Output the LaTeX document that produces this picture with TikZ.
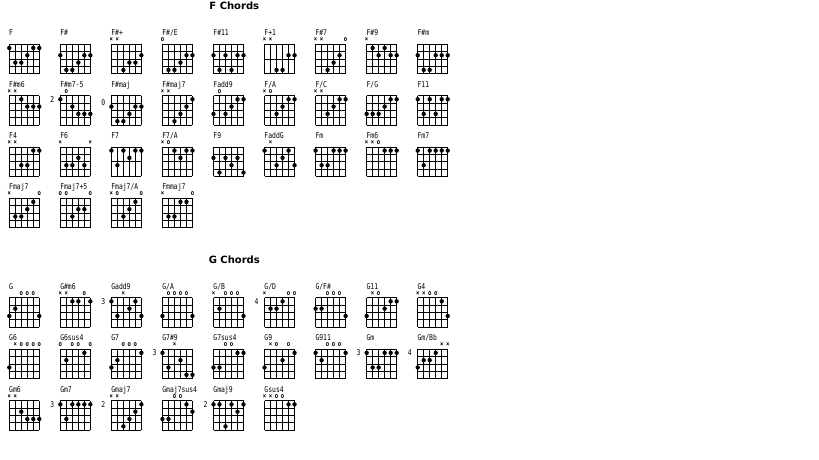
\documentclass[tikz,border=0pt]{standalone}
\usepackage{fontspec}
\setmainfont{DejaVu Sans}
\newfontfamily\labfont[FakeStretch=0.8]{DejaVu Sans Mono}

\tikzset{
  chlabel/.style={font=\labfont\fontsize{8}{8}\selectfont, inner sep=0pt, anchor=base west},
  chmark/.style={font=\labfont\fontsize{7}{7}\selectfont\bfseries, inner sep=0pt},
  fretlab/.style={font=\labfont\fontsize{8}{8}\selectfont, inner sep=0pt},
  gridline/.style={line width=0.7pt, black},
  chdot/.style={fill=black},
  sectitle/.style={font=\bfseries\fontsize{10}{10}\selectfont, inner sep=0pt},
}
\def\mx{×}
\def\mo{o}

% #1 x, #2 y, #3 node name, #4 label, #5 dots s/r, #6 markers s/sym, #7 fret y/text, #8 grid f|h
\newcommand{\chordbox}[8]{%
\begin{scope}[shift={(#1,#2)}]
  \node[chlabel] (#3) at (-0.3,-8.5) {#4};
  \foreach \s in {0,...,5} \draw[gridline] (\s*6,0) -- (\s*6,29.3);
  \if#8h
    \foreach \f in {0,2,4} \draw[gridline] (0,\f*7.325) -- (30,\f*7.325);
  \else
    \foreach \f in {0,...,4} \draw[gridline] (0,\f*7.325) -- (30,\f*7.325);
  \fi
  \foreach \s/\r in {#5} \fill[chdot] (\s*6-6,\r*7.325-3.66) circle (2.2pt);
  \def\tmpm{#6}\ifx\tmpm\empty\else
    \foreach \s/\m in {#6} \node[chmark] (#3-m\s) at (\s*6-6,-4.3) {\m};
  \fi
  \def\tmpf{#7}\ifx\tmpf\empty\else
    \foreach \fy/\ft in {#7} \node[fretlab] (#3-fret) at (-8,\fy) {\ft};
  \fi
\end{scope}}

\begin{document}
\begin{tikzpicture}[x=1pt,y=-1pt]
\fill[white] (0,0) rectangle (819,460);
\useasboundingbox (0,0) rectangle (819,460);

\node[sectitle] (ftitle) at (234.3,6) {F Chords};
\node[sectitle] (gtitle) at (234.3,260) {G Chords};

% ---- F row 1
\chordbox{9.3}{44.3}{fa0}{F}{1/1,2/3,3/3,4/2,5/1,6/1}{}{}{f}
\chordbox{60.35}{44.3}{fa1}{F\#}{1/2,2/4,3/4,4/3,5/2,6/2}{}{}{f}
\chordbox{111.4}{44.3}{fa2}{F\#+}{3/4,4/3,5/3,6/2}{1/\mx,2/\mx}{}{f}
\chordbox{162.45}{44.3}{fa3}{F\#/E}{2/4,3/4,4/3,5/2,6/2}{1/\mo}{}{f}
\chordbox{213.5}{44.3}{fa4}{F\#11}{1/2,2/4,3/2,4/4,5/2,6/2}{}{}{f}
\chordbox{264.55}{44.3}{fa5}{F+1}{3/4,4/4,5/2,6/2}{1/\mx,2/\mx}{}{h}
\chordbox{315.6}{44.3}{fa6}{F\#7}{3/4,4/3,5/2}{1/\mx,2/\mx,6/\mo}{}{f}
\chordbox{366.65}{44.3}{fa7}{F\#9}{2/1,3/2,4/1,5/2,6/2}{1/\mx}{}{f}
\chordbox{417.7}{44.3}{fa8}{F\#m}{1/2,2/4,3/4,4/2,5/2,6/2}{}{}{f}

% ---- F row 2
\chordbox{9.3}{95.6}{fb0}{F\#m6}{3/1,4/2,5/2,6/2}{1/\mx,2/\mx}{}{f}
\chordbox{60.35}{95.6}{fb1}{F\#m7-5}{1/1,3/2,4/3,5/3,6/3}{2/\mo}{3.66/2}{f}
\chordbox{111.4}{95.6}{fb2}{F\#maj}{1/2,2/4,3/4,4/3,5/2,6/2}{}{6.7/0}{f}
\chordbox{162.45}{95.6}{fb3}{F\#maj7}{3/4,4/3,5/2,6/1}{1/\mx,2/\mx}{}{f}
\chordbox{213.5}{95.6}{fb4}{Fadd9}{1/3,3/3,4/2,5/1,6/1}{2/\mo}{}{f}
\chordbox{264.55}{95.6}{fb5}{F/A}{3/3,4/2,5/1,6/1}{1/\mx,2/\mo}{}{f}
\chordbox{315.6}{95.6}{fb6}{F/C}{3/3,4/2,5/1,6/1}{1/\mx,2/\mx}{}{f}
\chordbox{366.65}{95.6}{fb7}{F/G}{1/3,2/3,3/3,4/2,5/1,6/1}{}{}{f}
\chordbox{417.7}{95.6}{fb8}{F11}{1/1,2/3,3/1,4/3,5/1,6/1}{}{}{f}

% ---- F row 3
\chordbox{9.3}{146.9}{fc0}{F4}{3/3,4/3,5/1,6/1}{1/\mx,2/\mx}{}{f}
\chordbox{60.35}{146.9}{fc1}{F6}{2/3,3/3,4/2,5/3}{1/\mx,6/\mx}{}{f}
\chordbox{111.4}{146.9}{fc2}{F7}{1/1,2/3,3/1,4/2,5/1,6/1}{}{}{h}
\chordbox{162.45}{146.9}{fc3}{F7/A}{3/1,4/2,5/1,6/1}{1/\mx,2/\mo}{}{f}
\chordbox{213.5}{146.9}{fc4}{F9}{1/2,2/4,3/2,4/3,5/2,6/4}{}{}{f}
\chordbox{264.55}{146.9}{fc5}{FaddG}{1/1,3/3,4/2,5/1,6/3}{2/\mx}{}{f}
\chordbox{315.6}{146.9}{fc6}{Fm}{1/1,2/3,3/3,4/1,5/1,6/1}{}{}{f}
\chordbox{366.65}{146.9}{fc7}{Fm6}{4/1,5/1,6/1}{1/\mx,2/\mx,3/\mo}{}{f}
\chordbox{417.7}{146.9}{fc8}{Fm7}{1/1,2/3,3/1,4/1,5/1,6/1}{}{}{f}

% ---- F row 4
\chordbox{9.3}{198.2}{fd0}{Fmaj7}{2/3,3/3,4/2,5/1}{1/\mx,6/\mo}{}{f}
\chordbox{60.35}{198.2}{fd1}{Fmaj7+5}{3/3,4/2,5/2}{1/\mo,2/\mo,6/\mo}{}{f}
\chordbox{111.4}{198.2}{fd2}{Fmaj7/A}{3/3,4/2,5/1}{1/\mx,2/\mo,6/\mo}{}{f}
\chordbox{162.45}{198.2}{fd3}{Fmmaj7}{2/3,3/3,4/1,5/1}{1/\mx,6/\mo}{}{f}

% ---- G row 1
\chordbox{9.3}{297.7}{ga0}{G}{1/3,2/2,6/3}{3/\mo,4/\mo,5/\mo}{}{f}
\chordbox{60.35}{297.7}{ga1}{G\#m6}{3/1,4/1,6/1}{1/\mx,2/\mx,5/\mo}{}{f}
\chordbox{111.4}{297.7}{ga2}{Gadd9}{1/1,2/3,4/2,5/1,6/3}{3/\mx}{3.66/3}{f}
\chordbox{162.45}{297.7}{ga3}{G/A}{1/3,6/3}{2/\mo,3/\mo,4/\mo,5/\mo}{}{f}
\chordbox{213.5}{297.7}{ga4}{G/B}{2/2,6/3}{1/\mx,3/\mo,4/\mo,5/\mo}{}{f}
\chordbox{264.55}{297.7}{ga5}{G/D}{2/2,3/2,4/1}{1/\mx,5/\mo,6/\mo}{3.66/4}{f}
\chordbox{315.6}{297.7}{ga6}{G/F\#}{1/2,2/2,6/3}{3/\mo,4/\mo,5/\mo}{}{f}
\chordbox{366.65}{297.7}{ga7}{G11}{1/3,4/2,5/1,6/1}{2/\mx,3/\mo}{}{f}
\chordbox{417.7}{297.7}{ga8}{G4}{5/1,6/3}{1/\mx,2/\mx,3/\mo,4/\mo}{}{f}

% ---- G row 2
\chordbox{9.3}{349.2}{gb0}{G6}{1/3}{2/\mx,3/\mo,4/\mo,5/\mo,6/\mo}{}{f}
\chordbox{60.35}{349.2}{gb1}{G6sus4}{2/2,5/1}{1/\mo,3/\mo,4/\mo,6/\mo}{}{f}
\chordbox{111.4}{349.2}{gb2}{G7}{1/3,2/2,6/1}{3/\mo,4/\mo,5/\mo}{}{f}
\chordbox{162.45}{349.2}{gb3}{G7\#9}{1/1,2/3,4/2,5/4,6/4}{3/\mx}{3.66/3}{f}
\chordbox{213.5}{349.2}{gb4}{G7sus4}{1/3,2/3,5/1,6/1}{3/\mo,4/\mo}{}{f}
\chordbox{264.55}{349.2}{gb5}{G9}{1/3,4/2,6/1}{2/\mx,3/\mo,5/\mo}{}{f}
\chordbox{315.6}{349.2}{gb6}{G911}{1/1,2/2,6/1}{3/\mo,4/\mo,5/\mo}{}{f}
\chordbox{366.65}{349.2}{gb7}{Gm}{1/1,2/3,3/3,4/1,5/1,6/1}{}{3.66/3}{f}
\chordbox{417.7}{349.2}{gb8}{Gm/Bb}{1/3,2/2,3/2,4/1}{5/\mx,6/\mx}{3.66/4}{f}

% ---- G row 3
\chordbox{9.3}{400.7}{gc0}{Gm6}{3/2,4/3,5/3,6/3}{1/\mx,2/\mx}{}{f}
\chordbox{60.35}{400.7}{gc1}{Gm7}{1/1,2/3,3/1,4/1,5/1,6/1}{}{3.66/3}{f}
\chordbox{111.4}{400.7}{gc2}{Gmaj7}{3/4,4/3,5/2,6/1}{1/\mx,2/\mx}{3.66/2}{f}
\chordbox{162.45}{400.7}{gc3}{Gmaj7sus4}{1/3,2/3,5/1,6/2}{3/\mo,4/\mo}{}{f}
\chordbox{213.5}{400.7}{gc4}{Gmaj9}{1/1,2/1,3/4,4/1,5/2,6/1}{}{3.66/2}{f}
\chordbox{264.55}{400.7}{gc5}{Gsus4}{5/1,6/1}{1/\mx,2/\mx,3/\mo,4/\mo}{}{f}
\end{tikzpicture}
\end{document}
